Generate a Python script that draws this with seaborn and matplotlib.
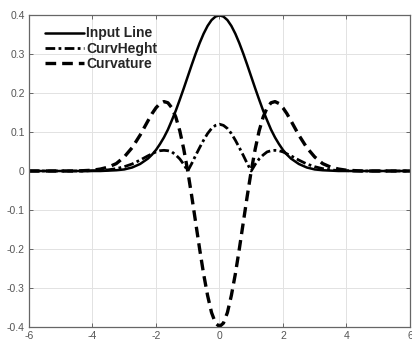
import matplotlib
matplotlib.use("Agg")
import matplotlib.pyplot as plt
import seaborn as sns
import pandas as pd
from matplotlib.ticker import FuncFormatter

# ── Dados ────────────────────────────────────────────────────────────────────

x_vals = [-6, -5, -4.5, -4.25, -4, -3.75, -3.5, -3.25, -3, -2.75, -2.5,
          -2.25, -2.125, -2, -1.875, -1.75, -1.625, -1.5, -1.375, -1.25, -1.125,
          -1, -0.875, -0.75, -0.625, -0.5, -0.375, -0.25, -0.125, 0,
          0.125, 0.25, 0.375, 0.5, 0.625, 0.75, 0.875, 1,
          1.125, 1.25, 1.375, 1.5, 1.625, 1.75, 1.875, 2, 2.125, 2.25,
          2.5, 2.75, 3, 3.25, 3.5, 3.75, 4, 4.25, 4.5, 5, 6]

input_line = [0, 0, 0, 0, 0.000, 0.000, 0.001, 0.002, 0.004, 0.009, 0.018,
              0.032, 0.042, 0.054, 0.069, 0.086, 0.106, 0.130, 0.155, 0.183, 0.212,
              0.242, 0.272, 0.301, 0.328, 0.352, 0.372, 0.387, 0.396, 0.399,
              0.396, 0.387, 0.372, 0.352, 0.328, 0.301, 0.272, 0.242,
              0.212, 0.183, 0.155, 0.130, 0.106, 0.086, 0.069, 0.054, 0.042, 0.032,
              0.018, 0.009, 0.004, 0.002, 0.001, 0.000, 0.000, 0, 0, 0, 0]

curv_height = [0, 0, 0, 0, 0.001, 0.001, 0.003, 0.006, 0.011, 0.018, 0.028,
               0.039, 0.044, 0.049, 0.052, 0.053, 0.052, 0.049, 0.041, 0.031, 0.017,
               0.000, 0.019, 0.040, 0.060, 0.079, 0.096, 0.109, 0.117, 0.120,
               0.117, 0.109, 0.096, 0.079, 0.060, 0.040, 0.019, 0.000,
               0.017, 0.031, 0.041, 0.049, 0.052, 0.053, 0.052, 0.049, 0.044, 0.039,
               0.028, 0.018, 0.011, 0.006, 0.003, 0.001, 0.001, 0, 0, 0, 0]

curvature = [0, 0, 0.000, 0.001, 0.002, 0.005, 0.010, 0.019, 0.036, 0.060, 0.092,
             0.129, 0.147, 0.162, 0.173, 0.178, 0.175, 0.162, 0.138, 0.103, 0.056,
             0.000, -0.064, -0.132, -0.200, -0.264, -0.319, -0.363, -0.390, -0.399,
             -0.390, -0.363, -0.319, -0.264, -0.200, -0.132, -0.064, 0.000,
             0.056, 0.103, 0.138, 0.162, 0.175, 0.178, 0.173, 0.162, 0.147, 0.129,
             0.092, 0.060, 0.036, 0.019, 0.010, 0.005, 0.002, 0.001, 0.000, 0, 0]

x_ticks = [-6, -4, -2, 0, 2, 4, 6]
y_ticks = [-0.4, -0.3, -0.2, -0.1, 0, 0.1, 0.2, 0.3, 0.4]

# ── Estilo ───────────────────────────────────────────────────────────────────

sns.set_style("whitegrid")
plt.rcParams["font.family"] = ["Liberation Sans", "DejaVu Sans"]
plt.rcParams["axes.unicode_minus"] = False

df = pd.DataFrame({"x": x_vals, "input": input_line,
                   "height": curv_height, "curv": curvature})

fig = plt.figure(figsize=(4.12, 3.45), dpi=100)
ax = fig.add_axes([0.0704, 0.0522, 0.9246, 0.9043])

sns.lineplot(data=df, x="x", y="input", ax=ax, color="k", lw=1.8,
             label="Input Line", sort=False)
sns.lineplot(data=df, x="x", y="height", ax=ax, color="k", lw=2.0,
             label="CurvHeght", sort=False)
ax.lines[-1].set_dashes((3.5, 1.2, 1.0, 1.2))
sns.lineplot(data=df, x="x", y="curv", ax=ax, color="k", lw=2.4,
             label="Curvature", sort=False)
ax.lines[-1].set_dashes((3.2, 1.8))

ax.set_xlim(-6, 6)
ax.set_ylim(-0.4, 0.4)
ax.set_xticks(x_ticks)
ax.set_yticks(y_ticks)
ax.xaxis.set_major_formatter(FuncFormatter(lambda v, p: f"{v:g}"))
ax.yaxis.set_major_formatter(FuncFormatter(lambda v, p: "0" if abs(v) < 1e-9 else f"{v:g}"))
ax.set_xlabel("")
ax.set_ylabel("")

ax.grid(True, color="#e2e2e2", lw=0.7)
for s in ax.spines.values():
    s.set_visible(True)
    s.set_color("#666666")
    s.set_linewidth(0.9)
ax.tick_params(direction="in", length=3, width=0.7, color="#666666",
               labelsize=7.5, labelcolor="#555555", top=True, right=True,
               left=True, bottom=True, pad=3)

leg = ax.legend(loc="upper left", bbox_to_anchor=(0.02, 0.99), frameon=False,
                prop={"weight": "bold", "size": 10}, handlelength=2.8,
                handletextpad=0.15, labelspacing=0.1, borderaxespad=0.2)

fig.savefig("out.png", dpi=100)
